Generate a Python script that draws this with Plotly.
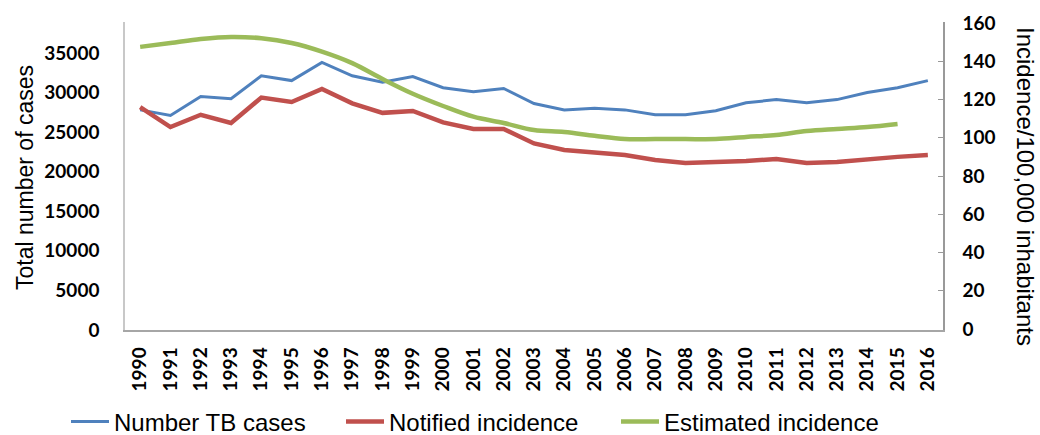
import plotly.graph_objects as go

years = [str(y) for y in range(1990, 2017)]
tb_cases = [27800, 27100, 29500, 29200, 32100, 31500, 33800, 32100, 31300, 32000,
            30600, 30100, 30500, 28600, 27800, 28000, 27800, 27200, 27200, 27700,
            28700, 29100, 28700, 29100, 30000, 30600, 31500]
notified = [116, 105.6, 112, 107.7, 121, 118.7, 125.5, 118, 113, 114,
            108, 104.6, 104.6, 97, 93.6, 92.5, 91, 88.4, 86.8, 87.3,
            87.8, 88.9, 86.8, 87.3, 88.9, 90, 91]
estimated = [147.5, 149.5, 151.6, 152.7, 152, 149.5, 145, 139, 130.7, 123,
             116.6, 111, 107.7, 104, 103, 101, 99.3, 99.3, 99.3, 99.3,
             100.4, 101.4, 103.5, 104.6, 105.6, 107.2]
left_ticks = [0, 5000, 10000, 15000, 20000, 25000, 30000, 35000]
right_ticks = [0, 20, 40, 60, 80, 100, 120, 140, 160]

fig = go.Figure()
fig.add_trace(go.Scatter(x=years, y=tb_cases, name="Number TB cases", mode="lines",
                         line=dict(color="#4F81BD", width=3)))
fig.add_trace(go.Scatter(x=years, y=notified, name="Notified incidence", mode="lines",
                         line=dict(color="#C0504D", width=4.5), yaxis="y2"))
fig.add_trace(go.Scatter(x=years[:len(estimated)], y=estimated, name="Estimated incidence",
                         mode="lines", line=dict(color="#9BBB59", width=4.5, shape="spline"),
                         yaxis="y2"))

tick_font = dict(family="Lato", size=19, color="#000000", weight="bold")

pw = 1040 - 125 - 97
ph = 435 - 22 - 105


def px_x(v):
    return (v - 125) / pw


def px_y(v):
    return (435 - 105 - v) / ph


fig.update_layout(
    width=1040, height=435,
    margin=dict(l=125, r=97, t=22, b=105, autoexpand=False),
    paper_bgcolor="white", plot_bgcolor="white",
    showlegend=True,
    legend=dict(orientation="h", x=px_x(66), xanchor="left", y=px_y(422), yanchor="middle",
                font=dict(family="Liberation Sans", size=24, color="#000000"),
                itemwidth=38, traceorder="normal", entrywidthmode="pixels", entrywidth=222),
    xaxis=dict(type="category", range=[-0.5, 26.5], tickangle=-90, tickfont=tick_font,
               showgrid=False, showline=True, linecolor="#A6A6A6", linewidth=1.5,
               ticks="", ticklabelstandoff=8, zeroline=False),
    yaxis=dict(range=[0, 38900], tickvals=left_ticks, ticktext=[str(v) for v in left_ticks],
               tickfont=tick_font, showgrid=False, showline=True, linecolor="#C8C8C8",
               linewidth=1.5, ticks="", ticklabelstandoff=20, zeroline=False),
    yaxis2=dict(range=[-0.5, 160.5], tickvals=right_ticks, overlaying="y", side="right",
                tickfont=tick_font, showgrid=False, showline=True, linecolor="#999999",
                linewidth=1.5, ticks="inside", ticklen=5, tickcolor="#999999",
                ticklabelstandoff=14, zeroline=False),
    annotations=[
        dict(text="Total number of cases", x=px_x(25), y=px_y(178), xref="paper", yref="paper",
             xanchor="center", yanchor="middle", showarrow=False, textangle=-90,
             font=dict(family="Liberation Sans", size=23, color="#000000")),
        dict(text="Incidence/100,000 inhabitants", x=px_x(1026), y=px_y(186), xref="paper",
             yref="paper", xanchor="center", yanchor="middle", showarrow=False, textangle=90,
             font=dict(family="Liberation Sans", size=24, color="#000000")),
    ],
)

fig.write_html("out.html", config={"displayModeBar": False},
               post_script="document.body.style.margin='0';document.body.style.overflow='hidden';")
